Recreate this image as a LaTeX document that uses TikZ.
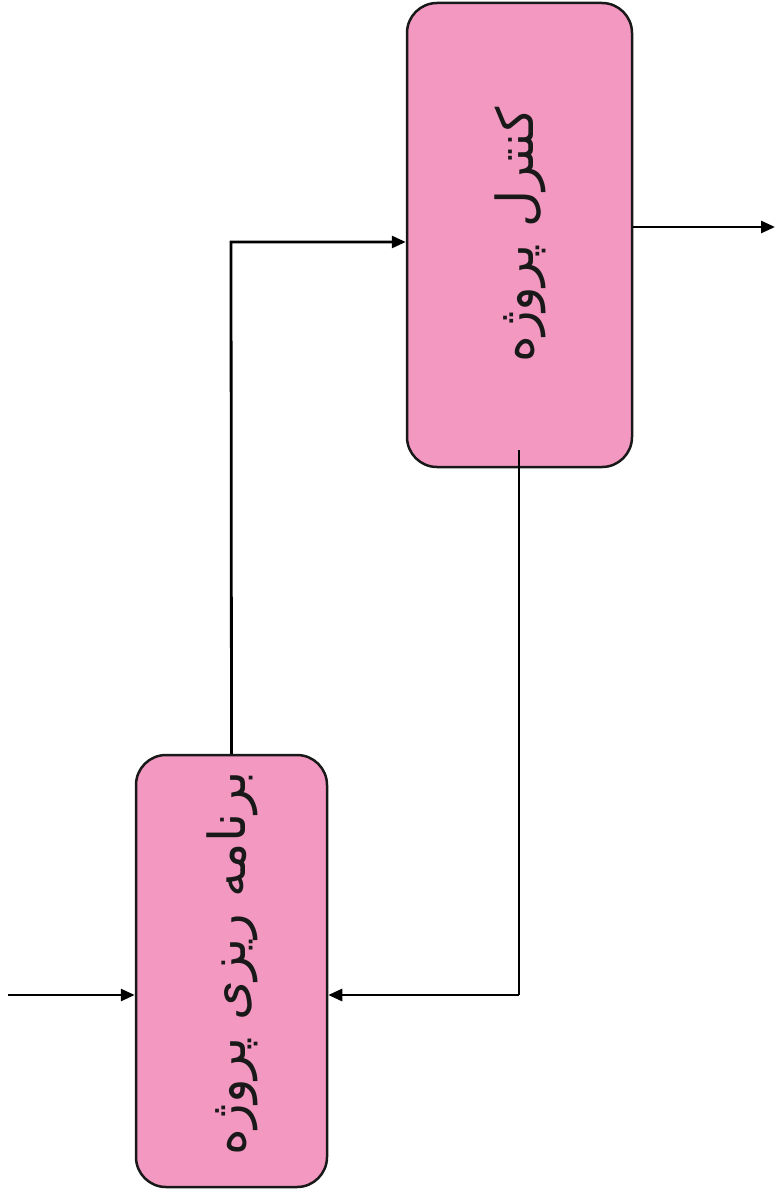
\documentclass[tikz,border=0pt]{standalone}
\usepackage{fontspec}
\newfontfamily\arabicfont[Script=Arabic]{DejaVu Sans}
\TeXXeTstate=1
\usetikzlibrary{arrows.meta}
\definecolor{boxpink}{RGB}{243,153,193}
\definecolor{edge}{RGB}{25,25,25}
\tikzset{
  procbox/.style={draw=edge, fill=boxpink, line width=2.5pt, rounded corners=30pt, minimum width=#1, inner sep=0pt},
  lbl/.style={rotate=90, font=\arabicfont\fontsize{51}{56}\selectfont, text=edge},
  conn/.style={draw=black, line width=2.8pt, -{Triangle[length=14pt,width=12pt]}},
  plain/.style={draw=black, line width=2.8pt}
}
\begin{document}
\begin{tikzpicture}[x=1pt,y=-1pt]
\useasboundingbox (0,0) rectangle (776,1196);
\node[procbox=225pt, minimum height=464pt] (ctrl) at (519.5,235) {};
\node[procbox=191pt, minimum height=432pt] (plan) at (231.5,971) {};
\node[lbl] (ctrltxt) at (520,235) {\beginR کنترل پروژه\endR};
\node[lbl] (plantxt) at (232,963) {\beginR برنامه ریزی پروژه\endR};
\coordinate (in) at (8,995);
\coordinate (out) at (775,227);
\coordinate (up) at (231,242);
\coordinate (fbtop) at (519,450);
\coordinate (fbbot) at (519,995);
\draw[conn] (in) -- (in -| plan.west);
\draw[conn] (plan.north) -- (up) -- (up -| ctrl.west);
\draw[conn] (out -| ctrl.east) -- (out);
\draw[plain] (fbtop) -- (fbbot);
\draw[conn] (fbbot) -- (fbbot -| plan.east);
\end{tikzpicture}
\end{document}
